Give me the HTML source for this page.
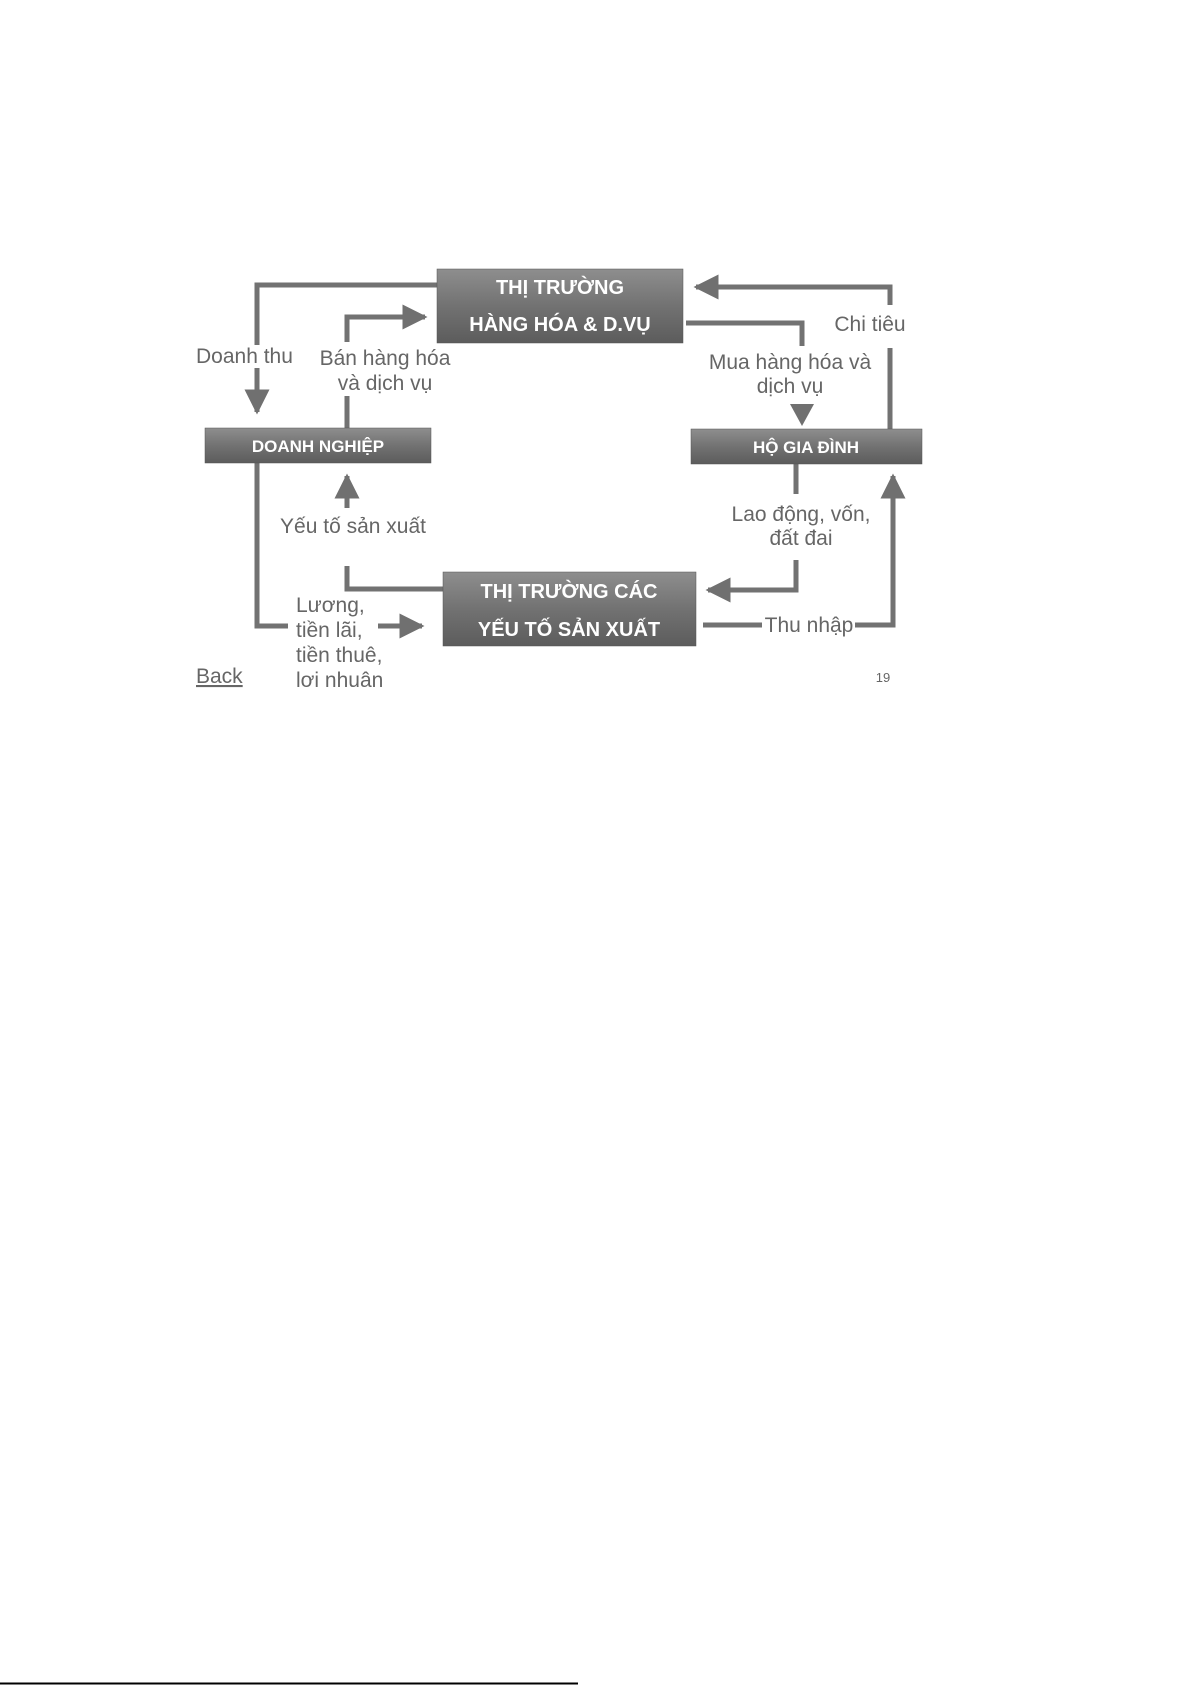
<!DOCTYPE html>
<html><head><meta charset="utf-8"><style>
html,body{margin:0;padding:0;background:#fff;}
svg{display:block;}
text{font-family:"Liberation Sans",Arial,sans-serif;}
</style></head><body>
<svg width="1191" height="1685" viewBox="0 0 1191 1685" xmlns="http://www.w3.org/2000/svg">
<defs>
<linearGradient id="g" x1="0" y1="0" x2="0" y2="1">
<stop offset="0" stop-color="#8e8e8e"/><stop offset="0.5" stop-color="#727272"/><stop offset="1" stop-color="#5c5c5c"/>
</linearGradient>
<marker id="a" markerWidth="5" markerHeight="5" refX="4.5" refY="2.5" orient="auto" markerUnits="strokeWidth">
<path d="M0,0 L5,2.5 L0,5 z" fill="#707070"/></marker>
</defs>
<g fill="none" stroke="#727272" stroke-width="5">
<polyline points="437,285 257,285 257,345"/>
<line x1="257" y1="368" x2="257" y2="412" marker-end="url(#a)"/>
<line x1="347" y1="428" x2="347" y2="396"/>
<polyline points="347,342 347,317 425,317" marker-end="url(#a)"/>
<line x1="347" y1="508" x2="347" y2="476" marker-end="url(#a)"/>
<polyline points="443,589 347,589 347,566"/>
<polyline points="257,463 257,626 288,626"/>
<line x1="378" y1="626" x2="422" y2="626" marker-end="url(#a)"/>
<line x1="890" y1="429" x2="890" y2="348"/>
<polyline points="890,305 890,287 696,287" marker-end="url(#a)"/>
<polyline points="686,323 802,323 802,346"/>
<line x1="796" y1="464" x2="796" y2="494"/>
<polyline points="796,560 796,590 708,590" marker-end="url(#a)"/>
<line x1="703" y1="625" x2="762" y2="625"/>
<polyline points="855,625 893,625 893,476" marker-end="url(#a)"/>
</g>
<polygon points="790,404 814,404 802,426" fill="#707070"/>
<g fill="url(#g)" stroke="#555" stroke-width="0.5">
<rect x="437" y="269" width="246" height="74"/>
<rect x="205" y="428" width="226" height="35"/>
<rect x="691" y="429" width="231" height="35"/>
<rect x="443" y="572" width="253" height="74"/>
</g>
<g fill="#fff" font-weight="bold" text-anchor="middle">
<text x="560" y="294" font-size="20">THỊ TRƯỜNG</text>
<text x="560" y="331" font-size="20">HÀNG HÓA &amp; D.VỤ</text>
<text x="318" y="452" font-size="17">DOANH NGHIỆP</text>
<text x="806" y="453" font-size="17">HỘ GIA ĐÌNH</text>
<text x="569" y="598" font-size="20">THỊ TRƯỜNG CÁC</text>
<text x="569" y="636" font-size="20">YẾU TỐ SẢN XUẤT</text>
</g>
<g fill="#666" font-size="21">
<text x="196" y="363">Doanh thu</text>
<text x="385" y="365" text-anchor="middle">Bán hàng hóa</text>
<text x="385" y="390" text-anchor="middle">và dịch vụ</text>
<text x="353" y="533" text-anchor="middle">Yếu tố sản xuất</text>
<text x="296" y="612">Lương,</text>
<text x="296" y="637">tiền lãi,</text>
<text x="296" y="662">tiền thuê,</text>
<text x="296" y="687">lợi nhuận</text>
<text x="870" y="331" text-anchor="middle">Chi tiêu</text>
<text x="790" y="369" text-anchor="middle">Mua hàng hóa và</text>
<text x="790" y="393" text-anchor="middle">dịch vụ</text>
<text x="801" y="521" text-anchor="middle">Lao động, vốn,</text>
<text x="801" y="545" text-anchor="middle">đất đai</text>
<text x="809" y="632" text-anchor="middle">Thu nhập</text>
<text x="196" y="683" text-decoration="underline">Back</text>
<text x="883" y="682" font-size="13" text-anchor="middle">19</text>
</g>
<rect x="180" y="688" width="740" height="12" fill="#fff"/>
<line x1="0" y1="1683.5" x2="578" y2="1683.5" stroke="#000" stroke-width="2"/>
</svg>
</body></html>
